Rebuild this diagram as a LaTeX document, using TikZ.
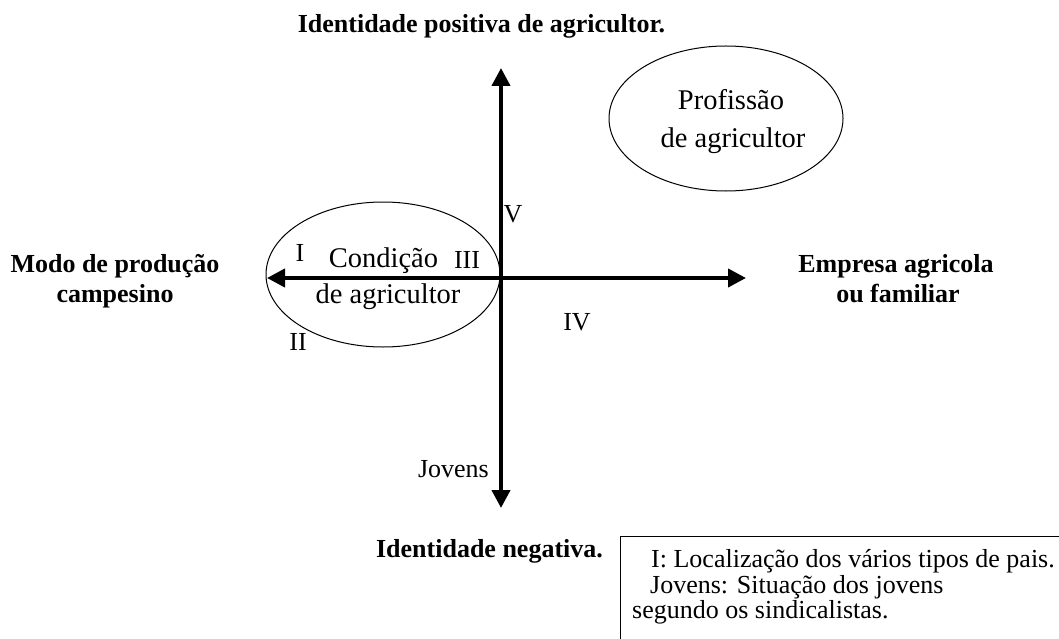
\documentclass[tikz,border=0pt]{standalone}
\usepackage{fontspec}
\setmainfont{Liberation Serif}
\usetikzlibrary{arrows.meta,shapes.geometric}
\tikzset{
  axisline/.style={line width=4pt,{Triangle[width=18pt,length=18pt]}-{Triangle[width=18pt,length=18pt]}},
  oval/.style={draw,ellipse,line width=1pt,inner sep=0pt,minimum width=234pt,minimum height=145pt},
  boldlbl/.style={inner sep=0pt,anchor=base,font=\fontsize{26}{30}\selectfont\bfseries},
  ovaltxt/.style={inner sep=0pt,anchor=base,font=\fontsize{28.5}{32}\selectfont},
  smalltxt/.style={inner sep=0pt,anchor=base,font=\fontsize{26}{30}\selectfont},
  boxtxt/.style={inner sep=0pt,anchor=base west,font=\fontsize{26}{30}\selectfont}
}
\begin{document}
\begin{tikzpicture}[x=1pt,y=-1pt]
\useasboundingbox (0,0) rectangle (1059,639);
% ellipses
\node[oval] (cond) at (383,274.5) {};
\node[oval] (prof) at (726,118.5) {};
% axes
\coordinate (top) at (501,68);
\coordinate (bot) at (501,508);
\coordinate (left) at (267,278);
\coordinate (right) at (746,278);
\draw[axisline] (top) -- (bot);
\draw[axisline] (left) -- (right);
% axis labels
\node[boldlbl] (toplbl) at (481.5,33) {Identidade positiva de agricultor.};
\node[boldlbl] (botlbl) at (489.5,557) {Identidade negativa.};
\node[boldlbl] (leftlbl1) at (115,272) {Modo de produção};
\node[boldlbl] (leftlbl2) at (115,302) {campesino};
\node[boldlbl] (rightlbl1) at (896,272) {Empresa agricola};
\node[boldlbl] (rightlbl2) at (898,302) {ou familiar};
% ellipse texts
\node[ovaltxt] (condA) at (383.5,267) {Condição};
\node[ovaltxt] (condB) at (388,303) {de agricultor};
\node[ovaltxt] (profA) at (731,110) {Profissão};
\node[ovaltxt] (profB) at (733,148) {de agricultor};
% small labels
\node[smalltxt] (lI) at (300,261) {I};
\node[smalltxt] (lIII) at (467,268) {III};
\node[smalltxt] (lII) at (298,350) {II};
\node[smalltxt] (lV) at (513,222) {V};
\node[smalltxt] (lIV) at (577,330) {IV};
\node[smalltxt,anchor=base east] (ljov) at (489,477) {Jovens};
% legend box
\coordinate (boxTR) at (1059,536);
\coordinate (boxTL) at (620,536);
\coordinate (boxBL) at (620,639);
\draw[line width=1pt] (boxTR) -- (boxTL) -- (boxBL);
\node[boxtxt] (leg1) at (651,567) {I: Localização dos vários tipos de pais.};
\node[boxtxt] (leg2) at (650,593) {Jovens: Situação dos jovens};
\node[boxtxt] (leg3) at (632,618) {segundo os sindicalistas.};
\end{tikzpicture}
\end{document}
